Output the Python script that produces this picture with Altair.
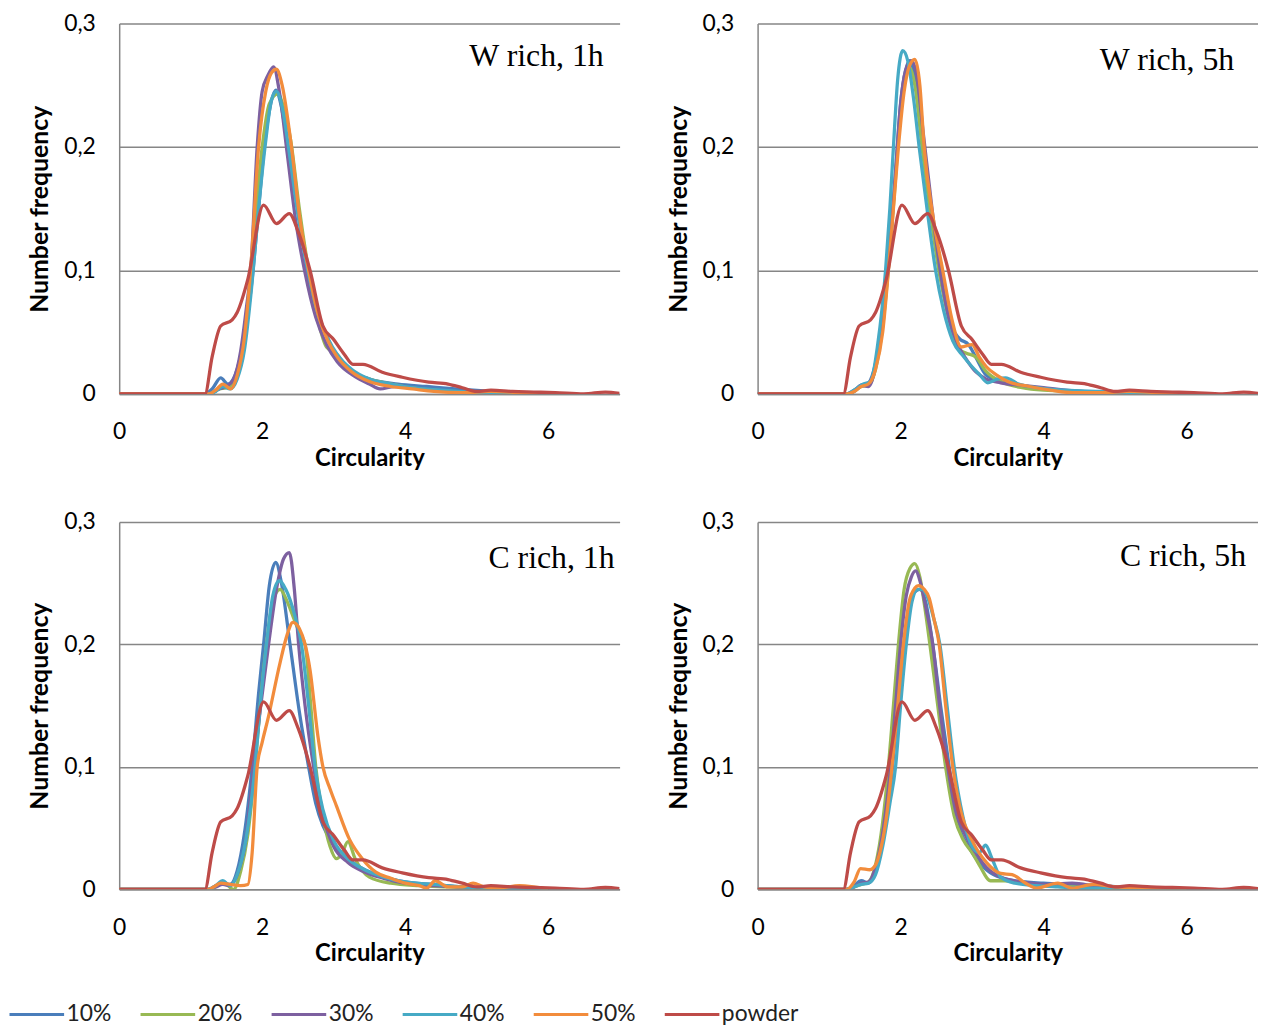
import altair as alt
import pandas as pd

SERIES = ["10%", "20%", "30%", "40%", "50%", "powder"]
COLORS = ["#4A7EBB", "#98B954", "#7D60A0", "#46AAC5", "#F28C3C", "#BE4B48"]

PANELS = ["W rich, 1h", "W rich, 5h", "C rich, 1h", "C rich, 5h"]

# powder (same reference curve in every panel)
powder_x = [0, 1.0, 1.2, 1.3, 1.42, 1.58, 1.65, 1.8, 2.02, 2.2, 2.38, 2.5, 2.67, 2.85, 3.0, 3.15, 3.27, 3.41,
            3.68, 3.96, 4.33, 4.6, 4.8, 5.0, 5.2, 5.5, 5.8, 6.1, 6.5, 6.8, 7.0]
powder_y = [0, 0, 0, 0.03, 0.055, 0.060, 0.066, 0.093, 0.153, 0.138, 0.146, 0.132, 0.100, 0.055, 0.044, 0.032,
            0.024, 0.024, 0.0175, 0.0135, 0.0095, 0.008, 0.005, 0.002, 0.003, 0.002, 0.0015, 0.001, 0.0, 0.0015, 0.0005]

# ---- W rich, 1h ----
w1_10_x = [0, 1.2, 1.3, 1.42, 1.52, 1.62, 1.73, 1.86, 1.95, 2.03, 2.12, 2.19, 2.26, 2.36, 2.5, 2.63, 2.75, 2.88, 3.0, 3.2, 3.5, 3.9, 4.3, 4.7, 5.2, 6.0]
w1_10_y = [0, 0, 0.004, 0.013, 0.008, 0.015, 0.04, 0.093, 0.15, 0.2, 0.235, 0.246, 0.235, 0.2, 0.15, 0.1, 0.07, 0.05, 0.035, 0.02, 0.012, 0.008, 0.006, 0.004, 0.002, 0]
w1_20_x = [0, 1.25, 1.4, 1.5, 1.6, 1.7, 1.8, 1.9, 2.0, 2.1, 2.22, 2.3, 2.4, 2.52, 2.65, 2.78, 2.9, 3.05, 3.2, 3.5, 3.8, 4.2, 4.6, 5.0, 5.5, 6.0]
w1_20_y = [0, 0, 0.004, 0.005, 0.01, 0.03, 0.07, 0.14, 0.2, 0.235, 0.243, 0.232, 0.205, 0.15, 0.1, 0.06, 0.038, 0.032, 0.02, 0.012, 0.008, 0.004, 0.002, 0.001, 0, 0]
w1_30_x = [0, 1.25, 1.4, 1.5, 1.6, 1.7, 1.78, 1.84, 1.93, 2.0, 2.08, 2.16, 2.24, 2.35, 2.47, 2.6, 2.75, 2.9, 3.05, 3.3, 3.5, 3.65, 3.85, 4.2, 4.6, 5.0, 6.0]
w1_30_y = [0, 0, 0.004, 0.006, 0.012, 0.035, 0.07, 0.1, 0.2, 0.245, 0.258, 0.265, 0.245, 0.195, 0.14, 0.098, 0.062, 0.04, 0.026, 0.014, 0.008, 0.004, 0.006, 0.004, 0.002, 0.001, 0]
w1_40_x = [0, 1.25, 1.35, 1.45, 1.55, 1.65, 1.75, 1.85, 1.95, 2.05, 2.13, 2.2, 2.28, 2.38, 2.5, 2.64, 2.78, 2.92, 3.05, 3.25, 3.5, 3.8, 4.1, 4.5, 5.0, 5.5, 6.0]
w1_40_y = [0, 0, 0.002, 0.006, 0.004, 0.012, 0.035, 0.085, 0.15, 0.205, 0.238, 0.245, 0.232, 0.195, 0.145, 0.1, 0.065, 0.045, 0.032, 0.02, 0.012, 0.008, 0.005, 0.003, 0.001, 0, 0]
w1_50_x = [0, 1.25, 1.35, 1.45, 1.56, 1.65, 1.75, 1.85, 1.95, 2.05, 2.13, 2.2, 2.28, 2.41, 2.52, 2.65, 2.78, 2.92, 3.05, 3.25, 3.5, 3.8, 4.1, 4.4, 4.8, 5.2, 5.6, 6.0]
w1_50_y = [0, 0, 0.003, 0.008, 0.004, 0.015, 0.045, 0.11, 0.2, 0.245, 0.26, 0.263, 0.25, 0.2, 0.145, 0.1, 0.065, 0.043, 0.03, 0.018, 0.01, 0.006, 0.004, 0.002, 0.001, 0.002, 0.001, 0]

# ---- W rich, 5h ----
w5_10_x = [0, 1.25, 1.35, 1.45, 1.55, 1.65, 1.75, 1.85, 1.93, 2.0, 2.07, 2.13, 2.2, 2.3, 2.42, 2.55, 2.68, 2.82, 2.95, 3.05, 3.2, 3.4, 3.7, 4.0, 4.5, 5.0, 6.0]
w5_10_y = [0, 0, 0.003, 0.007, 0.009, 0.025, 0.06, 0.12, 0.18, 0.235, 0.262, 0.27, 0.255, 0.205, 0.15, 0.1, 0.06, 0.045, 0.04, 0.03, 0.015, 0.01, 0.006, 0.004, 0.002, 0.001, 0]
w5_20_x = [0, 1.25, 1.35, 1.45, 1.55, 1.65, 1.75, 1.85, 1.93, 2.0, 2.06, 2.12, 2.2, 2.3, 2.42, 2.55, 2.68, 2.8, 2.92, 3.05, 3.2, 3.4, 3.7, 4.0, 4.5, 5.0, 6.0]
w5_20_y = [0, 0, 0.002, 0.006, 0.007, 0.02, 0.055, 0.115, 0.175, 0.23, 0.258, 0.265, 0.25, 0.2, 0.145, 0.095, 0.06, 0.037, 0.033, 0.03, 0.018, 0.01, 0.005, 0.003, 0.002, 0.001, 0]
w5_30_x = [0, 1.25, 1.35, 1.45, 1.55, 1.65, 1.75, 1.85, 1.93, 2.0, 2.07, 2.15, 2.22, 2.32, 2.44, 2.56, 2.68, 2.8, 2.92, 3.05, 3.2, 3.4, 3.7, 4.0, 4.5, 5.0, 6.0]
w5_30_y = [0, 0, 0.002, 0.007, 0.006, 0.022, 0.058, 0.118, 0.18, 0.235, 0.262, 0.27, 0.26, 0.21, 0.15, 0.098, 0.06, 0.04, 0.028, 0.018, 0.012, 0.009, 0.007, 0.005, 0.002, 0.001, 0]
w5_40_x = [0, 1.25, 1.35, 1.48, 1.58, 1.68, 1.79, 1.85, 1.9, 1.96, 2.03, 2.1, 2.18, 2.26, 2.37, 2.49, 2.6, 2.73, 2.87, 3.0, 3.1, 3.22, 3.35, 3.47, 3.65, 3.9, 4.3, 4.8, 5.3, 6.0]
w5_40_y = [0, 0, 0.003, 0.008, 0.01, 0.04, 0.1, 0.15, 0.2, 0.255, 0.278, 0.27, 0.24, 0.2, 0.15, 0.1, 0.068, 0.043, 0.031, 0.022, 0.016, 0.009, 0.012, 0.013, 0.008, 0.005, 0.003, 0.002, 0.001, 0]
w5_50_x = [0, 1.25, 1.35, 1.45, 1.55, 1.65, 1.75, 1.83, 1.9, 1.97, 2.05, 2.12, 2.2, 2.27, 2.33, 2.45, 2.59, 2.72, 2.85, 3.0, 3.1, 3.2, 3.35, 3.5, 3.8, 4.1, 4.4, 4.8, 5.2, 5.6, 6.0]
w5_50_y = [0, 0, 0.002, 0.006, 0.008, 0.02, 0.05, 0.1, 0.15, 0.2, 0.245, 0.265, 0.271, 0.25, 0.2, 0.145, 0.1, 0.06, 0.038, 0.04, 0.03, 0.022, 0.015, 0.01, 0.006, 0.003, 0.001, 0.001, 0.002, 0.001, 0]

# ---- C rich, 1h ----
c1_10_x = [0, 1.25, 1.35, 1.45, 1.55, 1.65, 1.75, 1.86, 1.95, 2.02, 2.1, 2.19, 2.27, 2.39, 2.52, 2.65, 2.75, 2.85, 3.0, 3.2, 3.4, 3.7, 4.0, 4.4, 4.8, 5.3, 6.0]
c1_10_y = [0, 0, 0.003, 0.005, 0.004, 0.015, 0.045, 0.1, 0.16, 0.2, 0.248, 0.267, 0.25, 0.2, 0.145, 0.1, 0.07, 0.052, 0.037, 0.025, 0.017, 0.01, 0.006, 0.004, 0.002, 0.001, 0]
c1_20_x = [0, 1.25, 1.35, 1.45, 1.6, 1.7, 1.8, 1.9, 1.98, 2.06, 2.15, 2.25, 2.35, 2.45, 2.52, 2.6, 2.68, 2.75, 2.85, 2.95, 3.04, 3.12, 3.2, 3.3, 3.5, 3.8, 4.2, 4.6, 5.0, 5.5, 6.0]
c1_20_y = [0, 0, 0.002, 0.006, 0.0, 0.015, 0.045, 0.1, 0.155, 0.2, 0.235, 0.245, 0.235, 0.22, 0.21, 0.2, 0.15, 0.1, 0.06, 0.035, 0.025, 0.03, 0.039, 0.025, 0.01, 0.005, 0.003, 0.002, 0.001, 0, 0]
c1_30_x = [0, 1.25, 1.35, 1.45, 1.55, 1.65, 1.77, 1.88, 1.98, 2.09, 2.2, 2.3, 2.38, 2.45, 2.51, 2.6, 2.72, 2.85, 3.0, 3.2, 3.4, 3.7, 4.0, 4.4, 4.8, 5.3, 6.0]
c1_30_y = [0, 0, 0.002, 0.004, 0.003, 0.012, 0.04, 0.1, 0.15, 0.2, 0.245, 0.27, 0.275, 0.245, 0.2, 0.15, 0.1, 0.06, 0.035, 0.022, 0.015, 0.009, 0.005, 0.003, 0.002, 0.001, 0]
c1_40_x = [0, 1.25, 1.35, 1.45, 1.55, 1.65, 1.77, 1.9, 1.98, 2.06, 2.15, 2.24, 2.33, 2.45, 2.55, 2.65, 2.74, 2.85, 3.0, 3.2, 3.4, 3.7, 4.0, 4.4, 4.8, 5.3, 6.0]
c1_40_y = [0, 0, 0.003, 0.007, 0.003, 0.012, 0.04, 0.1, 0.155, 0.2, 0.24, 0.252, 0.245, 0.225, 0.2, 0.15, 0.1, 0.065, 0.04, 0.025, 0.017, 0.01, 0.006, 0.004, 0.002, 0.001, 0]
c1_50_x = [0, 1.25, 1.35, 1.42, 1.55, 1.7, 1.8, 1.86, 1.93, 2.0, 2.08, 2.25, 2.35, 2.43, 2.52, 2.6, 2.67, 2.78, 2.85, 2.95, 3.04, 3.22, 3.4, 3.59, 3.8, 4.0, 4.2, 4.3, 4.42, 4.6, 4.8, 4.95, 5.1, 5.3, 5.6, 6.0]
c1_50_y = [0, 0, 0.003, 0.005, 0.004, 0.003, 0.004, 0.03, 0.1, 0.12, 0.139, 0.185, 0.208, 0.218, 0.213, 0.2, 0.179, 0.125, 0.1, 0.082, 0.068, 0.041, 0.025, 0.014, 0.009, 0.005, 0.003, 0.001, 0.007, 0.002, 0.002, 0.005, 0.002, 0.001, 0.003, 0]

# ---- C rich, 5h ----
c5_10_x = [0, 1.25, 1.35, 1.45, 1.55, 1.65, 1.77, 1.87, 1.95, 2.03, 2.12, 2.2, 2.27, 2.35, 2.45, 2.56, 2.68, 2.8, 2.95, 3.1, 3.3, 3.6, 4.0, 4.4, 4.8, 5.3, 6.0]
c5_10_y = [0, 0, 0.003, 0.007, 0.005, 0.015, 0.045, 0.09, 0.14, 0.19, 0.23, 0.243, 0.245, 0.235, 0.2, 0.15, 0.1, 0.055, 0.035, 0.022, 0.012, 0.007, 0.005, 0.004, 0.003, 0.001, 0]
c5_20_x = [0, 1.25, 1.35, 1.45, 1.55, 1.65, 1.75, 1.83, 1.9, 1.97, 2.05, 2.13, 2.2, 2.27, 2.34, 2.41, 2.52, 2.63, 2.75, 2.88, 3.0, 3.1, 3.26, 3.45, 3.7, 4.0, 4.4, 4.8, 5.3, 6.0]
c5_20_y = [0, 0, 0.002, 0.004, 0.006, 0.02, 0.055, 0.1, 0.15, 0.2, 0.245, 0.262, 0.266, 0.255, 0.23, 0.2, 0.15, 0.1, 0.06, 0.04, 0.03, 0.02, 0.007, 0.007, 0.005, 0.003, 0.002, 0.001, 0.001, 0]
c5_30_x = [0, 1.25, 1.35, 1.45, 1.55, 1.65, 1.76, 1.86, 1.93, 2.0, 2.08, 2.15, 2.21, 2.28, 2.36, 2.45, 2.55, 2.66, 2.78, 2.9, 3.05, 3.2, 3.4, 3.7, 4.0, 4.4, 4.8, 5.3, 6.0]
c5_30_y = [0, 0, 0.002, 0.005, 0.006, 0.018, 0.05, 0.1, 0.15, 0.2, 0.24, 0.255, 0.26, 0.25, 0.228, 0.2, 0.148, 0.1, 0.062, 0.045, 0.03, 0.018, 0.01, 0.006, 0.004, 0.005, 0.002, 0.001, 0]
c5_40_x = [0, 1.25, 1.35, 1.45, 1.55, 1.65, 1.75, 1.85, 1.93, 2.0, 2.08, 2.16, 2.24, 2.3, 2.38, 2.46, 2.55, 2.65, 2.75, 2.87, 3.0, 3.1, 3.19, 3.28, 3.4, 3.6, 3.9, 4.2, 4.6, 5.0, 5.5, 6.0]
c5_40_y = [0, 0, 0.002, 0.004, 0.005, 0.012, 0.035, 0.07, 0.1, 0.15, 0.2, 0.235, 0.245, 0.245, 0.238, 0.222, 0.2, 0.15, 0.1, 0.06, 0.035, 0.03, 0.036, 0.025, 0.01, 0.005, 0.003, 0.002, 0.001, 0.001, 0, 0]
c5_50_x = [0, 1.25, 1.35, 1.44, 1.57, 1.65, 1.71, 1.8, 1.88, 1.96, 2.04, 2.12, 2.2, 2.25, 2.33, 2.4, 2.47, 2.54, 2.63, 2.73, 2.85, 3.0, 3.2, 3.4, 3.56, 3.75, 3.9, 4.2, 4.4, 4.7, 5.0, 5.5, 6.0]
c5_50_y = [0, 0, 0.006, 0.017, 0.016, 0.02, 0.03, 0.058, 0.1, 0.15, 0.2, 0.235, 0.246, 0.248, 0.245, 0.238, 0.22, 0.2, 0.15, 0.1, 0.062, 0.04, 0.022, 0.013, 0.012, 0.005, 0.001, 0.005, 0.001, 0.004, 0.002, 0.001, 0]

SERIES_DATA = {
    "W rich, 1h": [(w1_10_x, w1_10_y), (w1_20_x, w1_20_y), (w1_30_x, w1_30_y), (w1_40_x, w1_40_y), (w1_50_x, w1_50_y), (powder_x, powder_y)],
    "W rich, 5h": [(w5_10_x, w5_10_y), (w5_20_x, w5_20_y), (w5_30_x, w5_30_y), (w5_40_x, w5_40_y), (w5_50_x, w5_50_y), (powder_x, powder_y)],
    "C rich, 1h": [(c1_10_x, c1_10_y), (c1_20_x, c1_20_y), (c1_30_x, c1_30_y), (c1_40_x, c1_40_y), (c1_50_x, c1_50_y), (powder_x, powder_y)],
    "C rich, 5h": [(c5_10_x, c5_10_y), (c5_20_x, c5_20_y), (c5_30_x, c5_30_y), (c5_40_x, c5_40_y), (c5_50_x, c5_50_y), (powder_x, powder_y)],
}

rows = []
for p in PANELS:
    for si, (xs, ys) in enumerate(SERIES_DATA[p]):
        for xv, yv in zip(xs, ys):
            rows.append({"panel": p, "series": SERIES[si], "sidx": si, "x": xv, "y": yv})
df = pd.DataFrame(rows)

FONT = "Lato"
LABEL_EXPR = "datum.value == 0 ? '0' : replace(format(datum.value, '.1f'), '.', ',')"

# plot-area sizes and in-plot title anchor (right edge, vertical centre)
LAYOUT = {
    "W rich, 1h": dict(w=504, h=373, tx=488, ty=33),
    "W rich, 5h": dict(w=504, h=373, tx=480, ty=37),
    "C rich, 1h": dict(w=504, h=370, tx=499, ty=36),
    "C rich, 5h": dict(w=504, h=370, tx=492, ty=34),
}


def make_panel(name):
    lay = LAYOUT[name]
    base = alt.Chart(df).transform_filter(alt.datum.panel == name)
    lines = base.mark_line(strokeWidth=3.3, interpolate="monotone", clip=True).encode(
        x=alt.X("x:Q", scale=alt.Scale(domain=[0, 7], nice=False, zero=False),
                axis=alt.Axis(values=[0, 2, 4, 6], title="Circularity", grid=False,
                              ticks=False, tickSize=0, labelPadding=27, titlePadding=3,
                              titleFontSize=24,
                              labelFlush=False, domainColor="#868686", domainWidth=1.5)),
        y=alt.Y("y:Q", scale=alt.Scale(domain=[0, 0.3], nice=False),
                axis=alt.Axis(values=[0, 0.1, 0.2, 0.3], title="Number frequency", grid=True,
                              ticks=False, tickSize=0, labelPadding=24, titlePadding=11,
                              titleFontSize=25,
                              labelExpr=LABEL_EXPR, domainColor="#868686", domainWidth=1.5)),
        color=alt.Color("series:N", scale=alt.Scale(domain=SERIES, range=COLORS),
                        legend=alt.Legend(title=None, orient="none", direction="horizontal",
                                          legendX=-112, legendY=969,
                                          symbolType="stroke", symbolSize=3025, symbolStrokeWidth=3,
                                          labelFont=FONT, labelFontSize=23, labelColor="#222222",
                                          labelOffset=1, columnPadding=22, labelLimit=200)),
        detail="sidx:Q",
        order=alt.Order("x:Q"),
    )
    title = alt.Chart(pd.DataFrame({"t": [name]})).mark_text(
        font="Liberation Serif", fontSize=32, align="right", baseline="middle", color="#000000"
    ).encode(text="t:N", x=alt.value(lay["tx"]), y=alt.value(lay["ty"]))
    return alt.layer(lines, title).properties(width=lay["w"], height=lay["h"])


row1 = alt.hconcat(make_panel(PANELS[0]), make_panel(PANELS[1]), spacing=47)
row2 = alt.hconcat(make_panel(PANELS[2]), make_panel(PANELS[3]), spacing=47)

chart = alt.vconcat(row1, row2, spacing=41).properties(
    padding={"left": 0, "top": 1, "right": 0, "bottom": 0}
).configure_view(stroke=None).configure_axis(
    labelFont=FONT, labelFontSize=23, labelColor="#000000",
    titleFont=FONT, titleFontSize=23, titleFontWeight="bold", titleColor="#000000",
    gridColor="#868686", gridWidth=1.5,
).configure_legend(symbolStrokeColor=None)

chart.save("out.html", embed_options={"renderer": "svg", "actions": False})
